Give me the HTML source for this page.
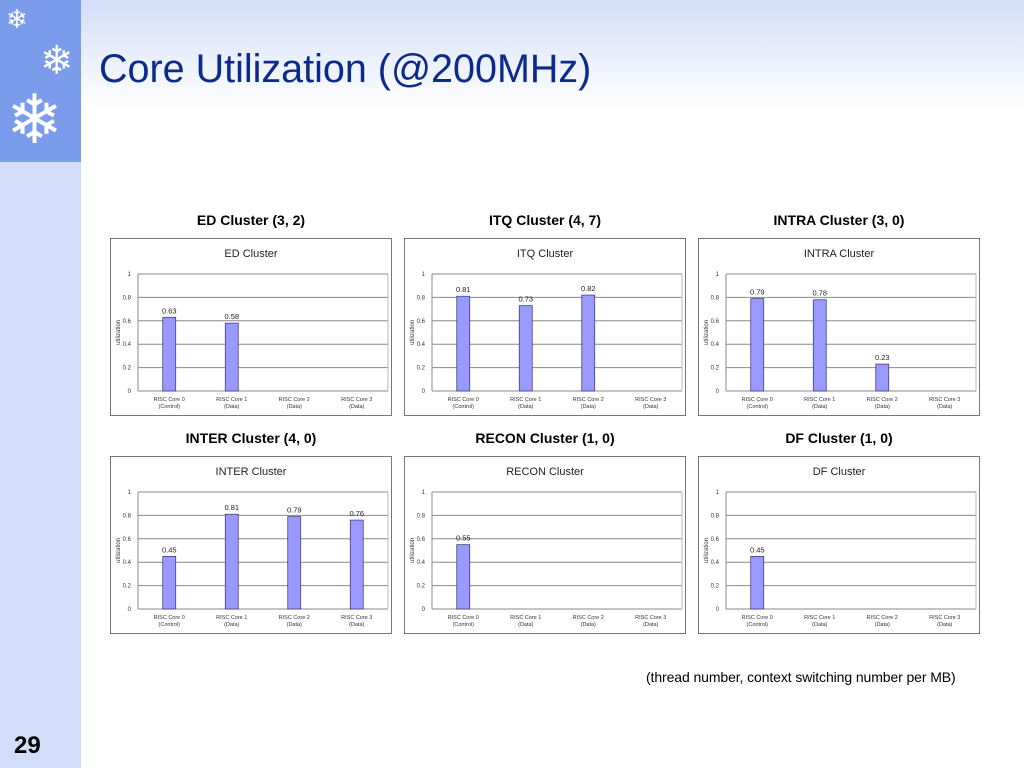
<!DOCTYPE html>
<html><head><meta charset="utf-8">
<style>
body{margin:0;width:1024px;height:768px;position:relative;overflow:hidden;font-family:"Liberation Sans",sans-serif;background:linear-gradient(#d3def9 0px,#ffffff 110px,#ffffff 768px);}
.side{position:absolute;left:0;top:0;width:81px;height:768px;background:#d2ddfa;}
.sidetop{position:absolute;left:0;top:0;width:81px;height:162px;background:#7b9ceb;}
.title{position:absolute;left:99px;top:47px;font-size:39.5px;color:#0b2a8c;}
.ctitle{position:absolute;font-size:14px;font-weight:bold;width:282px;text-align:center;}
.note{position:absolute;left:646px;top:669px;font-size:14px;letter-spacing:-0.1px;}
.pnum{position:absolute;left:14px;top:732px;font-size:24px;font-weight:bold;}
svg{position:absolute;left:0;top:0;}
</style></head><body>
<div class="side"></div>
<div class="sidetop">
<span style="position:absolute;left:6px;top:4px;font-size:26px;color:#fff">❄</span>
<span style="position:absolute;left:40px;top:38px;font-size:40px;color:#fff">❄</span>
<span style="position:absolute;left:6px;top:86px;font-size:68px;line-height:68px;color:#fff">❄</span>
</div>
<div class="title">Core Utilization (@200MHz)</div>
<div class="note">(thread number, context switching number per MB)</div>
<div class="pnum">29</div>
<svg id="s" width="1024" height="768"></svg>
<script>
const chartTitles=["ED Cluster","ITQ Cluster","INTRA Cluster","INTER Cluster","RECON Cluster","DF Cluster"];
const headings=["ED Cluster (3, 2)","ITQ Cluster (4, 7)","INTRA Cluster (3, 0)","INTER Cluster (4, 0)","RECON Cluster (1, 0)","DF Cluster (1, 0)"];
const categories=["RISC Core 0","RISC Core 1","RISC Core 2","RISC Core 3"];
const subLabels=["(Control)","(Data)","(Data)","(Data)"];
const edValues=[0.63,0.58,null,null];
const itqValues=[0.81,0.73,0.82,null];
const intraValues=[0.79,0.78,0.23,null];
const interValues=[0.45,0.81,0.79,0.76];
const reconValues=[0.55,null,null,null];
const dfValues=[0.45,null,null,null];
const yTicks=[0,0.2,0.4,0.6,0.8,1];
const series=[edValues,itqValues,intraValues,interValues,reconValues,dfValues];
const s=document.getElementById('s');
const NS='http://www.w3.org/2000/svg';
function mk(t,a,txt){const e=document.createElementNS(NS,t);for(const k in a)e.setAttribute(k,a[k]);if(txt!==undefined)e.textContent=txt;s.appendChild(e);return e;}
series.forEach((vals,i)=>{
  const bx=110+(i%3)*294, by=238+Math.floor(i/3)*218;
  const h=document.createElement('div');h.className='ctitle';h.style.left=bx+'px';h.style.top=(by-26)+'px';h.textContent=headings[i];
  
  
  document.body.appendChild(h);
  const box=mk('rect',{x:bx+0.5,y:by+0.5,width:281,height:177,fill:'#fff',stroke:'#777'});
  
  
  const L=bx+28,R=bx+278,T=by+36,B=by+153;
  const y=v=>B-(v)*(B-T);
  const cw=(R-L)/categories.length;
  const x=j=>L+cw*(j+0.5);
  const t=mk('text',{x:bx+141,y:by+19,'font-size':11,'text-anchor':'middle',fill:'#222'},chartTitles[i]);
  
  
  yTicks.forEach(v=>{
    const g=mk('line',{x1:L,x2:R,y1:y(v),y2:y(v),stroke:'#888','stroke-width':1});
    
    
    const tl=mk('text',{x:L-7,y:y(v)+2,'font-size':6,'text-anchor':'end',fill:'#333'},String(v));
    
    
  });
  mk('line',{x1:L,x2:L,y1:T,y2:B,stroke:'#888'});
  mk('line',{x1:R,x2:R,y1:T,y2:B,stroke:'#bbb'});
  const yt=mk('text',{x:bx+10,y:(T+B)/2,'font-size':6,'text-anchor':'middle',fill:'#333',transform:`rotate(-90 ${bx+10} ${(T+B)/2})`},'utilization');
  
  
  categories.forEach((c,j)=>{
    const a=mk('text',{x:x(j),y:B+10,'font-size':5.5,'text-anchor':'middle',fill:'#333'},c);
    
    
    const b=mk('text',{x:x(j),y:B+17,'font-size':5.5,'text-anchor':'middle',fill:'#333'},subLabels[j]);
    
    
    const v=vals[j]; if(v==null)return;
    const bar=mk('rect',{x:x(j)-6.5,y:y(v),width:13,height:B-y(v),fill:'#9999ff',stroke:'#333366','stroke-width':0.7});
    
    
    const vl=mk('text',{x:x(j),y:y(v)-4,'font-size':7.5,'text-anchor':'middle',fill:'#222'},String(v));
    
    
  });
});
</script>
</body></html>
